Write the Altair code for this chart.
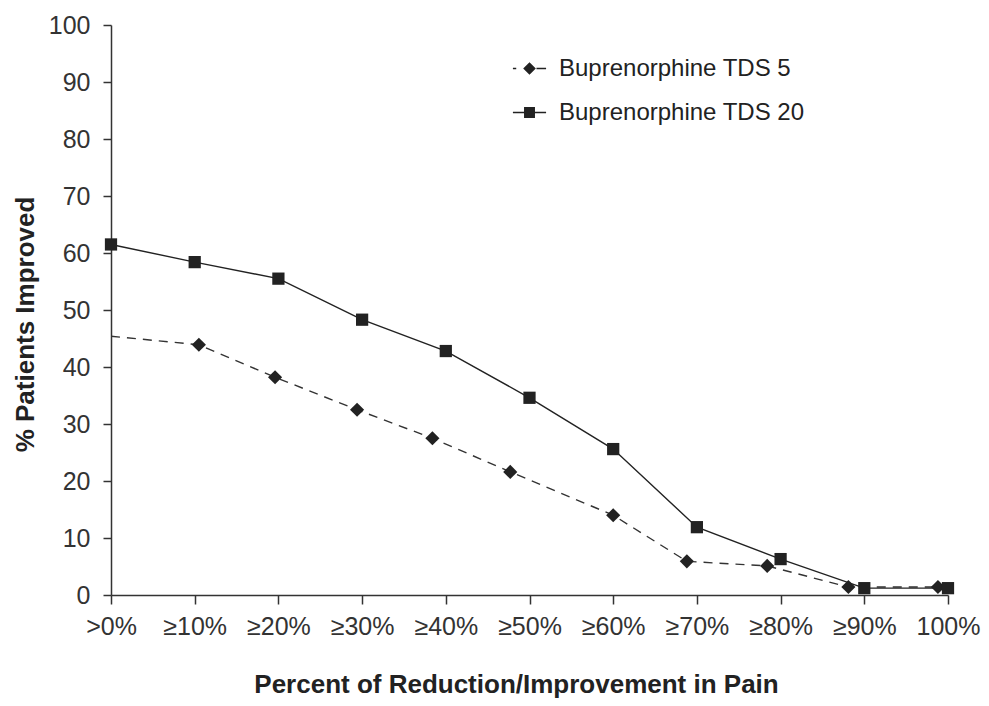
import altair as alt
import pandas as pd

x_labels = [">0%", "≥10%", "≥20%", "≥30%", "≥40%", "≥50%", "≥60%", "≥70%", "≥80%", "≥90%", "100%"]
tick_values = [0, 10, 20, 30, 40, 50, 60, 70, 80, 90, 100]

tds20_x = [0, 10, 20, 30, 40, 50, 60, 70, 80, 90, 100]
tds20_y = [61.5, 58.4, 55.5, 48.3, 42.8, 34.6, 25.6, 11.9, 6.3, 1.2, 1.2]

tds5_x = [0, 10.5, 19.6, 29.4, 38.4, 47.7, 60, 68.8, 78.4, 88.1, 98.8]
tds5_y = [45.4, 43.9, 38.2, 32.5, 27.5, 21.6, 14.0, 5.9, 5.1, 1.4, 1.4]
tds5_marker = [False, True, True, True, True, True, True, True, True, True, True]

series_names = ["Buprenorphine TDS 5", "Buprenorphine TDS 20"]

df20 = pd.DataFrame({"x": tds20_x, "y": tds20_y, "series": series_names[1]})
df5 = pd.DataFrame({"x": tds5_x, "y": tds5_y, "series": series_names[0], "marker": tds5_marker})

FONT = "Liberation Sans, Arial, Helvetica"
INK = "#222222"

label_expr = "[" + ",".join("'" + s + "'" for s in x_labels) + "][round(datum.value / 10)]"

x_enc = alt.X(
    "x:Q",
    scale=alt.Scale(domain=[0, 100], nice=False, zero=False),
    axis=alt.Axis(
        values=tick_values,
        labelExpr=label_expr,
        labelOverlap=False,
        labelFlush=False,
        title="Percent of Reduction/Improvement in Pain",
        titleX=405,
        titleY=89,
        titleBaseline="middle",
        titleAlign="center",
        tickSize=9,
        labelPadding=10,
        grid=False,
    ),
)
y_enc = alt.Y(
    "y:Q",
    scale=alt.Scale(domain=[0, 100], nice=False),
    axis=alt.Axis(
        values=list(range(0, 101, 10)),
        title="% Patients Improved",
        titleAngle=-90,
        titleX=-86,
        titleY=299,
        titleAlign="center",
        titleBaseline="middle",
        tickSize=8,
        labelPadding=13,
        grid=False,
    ),
)

line20 = alt.Chart(df20).mark_line(color=INK, strokeWidth=1.4).encode(x=x_enc, y=y_enc)
pts20 = alt.Chart(df20).mark_point(shape="square", filled=True, color=INK, size=150, opacity=1).encode(x="x:Q", y="y:Q")

line5 = alt.Chart(df5).mark_line(color="#333333", strokeWidth=1.4, strokeDash=[9, 7]).encode(x="x:Q", y="y:Q")
pts5 = (
    alt.Chart(df5)
    .transform_filter("datum.marker")
    .mark_point(shape="diamond", filled=True, color=INK, size=200, opacity=1)
    .encode(x="x:Q", y="y:Q")
)

# legend glyphs: line pieces drawn as thin filled bars around the marker
legend_paths = [
    "M-1,-0.045L-0.8,-0.045L-0.8,0.045L-1,0.045Z"
    "M-0.38,0L0,-0.38L0.38,0L0,0.38Z"
    "M0.42,-0.045L1,-0.045L1,0.045L0.42,0.045Z",
    "M-1,-0.045L-0.33,-0.045L-0.33,0.045L-1,0.045Z"
    "M-0.33,-0.33L0.33,-0.33L0.33,0.33L-0.33,0.33Z"
    "M0.33,-0.045L1,-0.045L1,0.045L0.33,0.045Z",
]

legend_layer = (
    alt.Chart(pd.DataFrame({"series": series_names, "x": [0, 0], "y": [0, 0]}))
    .transform_filter("false")
    .mark_point(filled=True, color=INK, opacity=1)
    .encode(
        x="x:Q",
        y="y:Q",
        shape=alt.Shape(
            "series:N",
            scale=alt.Scale(domain=series_names, range=legend_paths),
            legend=alt.Legend(
                title=None,
                orient="none",
                legendX=401,
                legendY=26,
                symbolSize=1100,
                symbolFillColor=INK,
                symbolOpacity=1,
                labelFontSize=24,
                labelFont=FONT,
                labelColor=INK,
                labelOffset=12,
                labelLimit=0,
                rowPadding=14,
            ),
        ),
    )
)

chart = (
    alt.layer(line5, line20, pts5, pts20, legend_layer)
    .properties(
        width=837,
        height=570,
        autosize=alt.AutoSizeParams(type="none"),
        padding={"left": 103, "top": 17, "right": 33, "bottom": 103},
    )
    .configure_view(stroke=None)
    .configure_axis(
        domainColor="#333333",
        domainWidth=1.5,
        tickColor="#333333",
        tickWidth=1.5,
        labelFont=FONT,
        labelFontSize=25,
        labelColor="#333333",
        titleFont=FONT,
        titleFontSize=26,
        titleFontWeight="bold",
        titleColor=INK,
    )
)

chart.save("out.html", embed_options={"renderer": "svg", "actions": False})
